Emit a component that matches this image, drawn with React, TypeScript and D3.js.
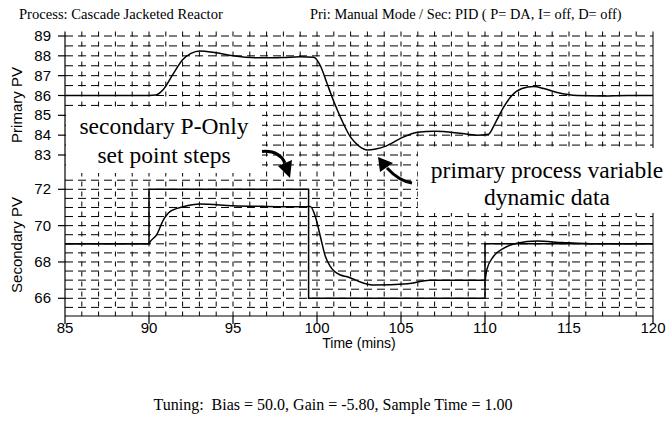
import React from "react";
import * as d3 from "d3";

const primaryT = [85, 87, 90, 90.4, 90.85, 91.45, 92.0, 92.5, 93.0, 94.0, 95.0, 96.5, 98, 99.0, 99.8, 100.2, 100.6, 101.0, 101.4, 102.0, 102.5, 103.0, 103.5, 104.1, 105.0, 106.0, 107.0, 108.5, 109.5, 110.2, 110.6, 111.1, 111.6, 112.2, 112.9, 113.5, 114.3, 115.5, 117, 118.5, 120];
const primaryV = [86.0, 86.0, 86.0, 86.02, 86.3, 87.1, 87.8, 88.12, 88.25, 88.15, 88.0, 87.9, 87.92, 87.95, 87.93, 87.5, 86.6, 85.7, 84.9, 83.9, 83.45, 83.25, 83.3, 83.45, 83.85, 84.15, 84.2, 84.1, 84.0, 84.05, 84.6, 85.4, 86.0, 86.35, 86.45, 86.35, 86.15, 86.0, 85.98, 86.0, 86.0];

const secondaryT = [85, 88, 90, 90.06, 90.46, 90.85, 91.25, 92.04, 93.04, 95, 97, 99, 99.6, 99.9, 100.2, 100.5, 100.8, 101.4, 101.8, 102.8, 103.4, 105.4, 106.7, 108, 109.7, 110, 110.1, 110.5, 111.1, 111.9, 113.1, 114.6, 116.6, 120];
const secondaryV = [69.0, 69.0, 69.0, 69.1, 69.5, 70.3, 70.77, 71.04, 71.19, 71.1, 71.06, 71.04, 71.05, 70.5, 69.4, 68.3, 67.74, 67.28, 67.19, 66.83, 66.73, 66.8, 67.0, 67.0, 67.0, 67.0, 67.56, 68.3, 68.75, 69.03, 69.15, 69.07, 69.0, 69.0];

const setpointT = [85, 90, 99.5, 110, 120];
const setpointV = [69, 72, 66, 69, 69];

const xTicks = [85, 90, 95, 100, 105, 110, 115, 120];
const primaryTicks = [83, 84, 85, 86, 87, 88, 89];
const secondaryTicks = [66, 68, 70, 72];

const titleLeft = "Process: Cascade Jacketed Reactor";
const titleRight = "Pri: Manual Mode / Sec: PID ( P= DA, I= off, D= off)";
const tuningText = "Tuning:  Bias = 50.0, Gain = -5.80, Sample Time = 1.00";

export default function App() {
  const W = 667, H = 447;
  const left = 65, right = 653, top = 31.5, bottom = 316;
  const x = d3.scaleLinear().domain([85, 120]).range([left, right]);
  const yP = d3.scaleLinear().domain([83, 89]).range([155, 36]);
  const yS = d3.scaleLinear().domain([66, 72]).range([298.3, 189.3]);

  const pGrid = d3.range(89, 82.4, -0.5);
  const sGrid = d3.range(72.5, 65.4, -0.5);
  const vGrid = d3.range(86, 120, 1);

  const pLine = d3.line<number>().x((_, i) => x(primaryT[i])).y((d) => yP(d)).curve(d3.curveMonotoneX);
  const sLine = d3.line<number>().x((_, i) => x(secondaryT[i])).y((d) => yS(d)).curve(d3.curveMonotoneX);
  const spLine = d3.line<number>().x((_, i) => x(setpointT[i])).y((d) => yS(d)).curve(d3.curveStepAfter);

  const sans = "'Liberation Sans', Arial, sans-serif";
  const serif = "'Liberation Serif', 'Times New Roman', serif";
  const ts = { fontFamily: serif, whiteSpace: "pre" as const };

  return (
    <svg width={W} height={H} style={{ position: "absolute", left: 0, top: 0, background: "#fff" }}>
      <rect x={0} y={0} width={W} height={H} fill="#fff" />
      <text x={19} y={19} style={ts} fontSize={14.6}>{titleLeft}</text>
      <text x={310} y={19} style={ts} fontSize={14.4}>{titleRight}</text>

      {/* grid */}
      <g stroke="#000" strokeWidth={1} fill="none">
        {vGrid.map((t) => (
          <line key={"v" + t} x1={x(t)} x2={x(t)} y1={top} y2={bottom} strokeDasharray="5,5" />
        ))}
        {pGrid.map((v) => (
          <line key={"p" + v} x1={left} x2={right} y1={yP(v)} y2={yP(v)} strokeDasharray="8,5" />
        ))}
        {sGrid.map((v) => (
          <line key={"s" + v} x1={left} x2={right} y1={yS(v)} y2={yS(v)} strokeDasharray="8,5" />
        ))}
        <line x1={right} x2={right} y1={top} y2={bottom} />
      </g>

      {/* white label boxes */}
      <rect x={66} y={108} width={196} height={65} fill="#fff" />
      <rect x={418} y={148} width={249} height={65} fill="#fff" />

      {/* axes */}
      <g stroke="#000" strokeWidth={1.2} fill="none">
        <line x1={left} x2={left} y1={top} y2={bottom} />
        <line x1={left} x2={right} y1={bottom} y2={bottom} />
        {xTicks.map((t) => (
          <line key={"xt" + t} x1={x(t)} x2={x(t)} y1={bottom} y2={bottom + 8} />
        ))}
        {primaryTicks.map((v) => (
          <line key={"pt" + v} x1={left - 7} x2={left} y1={yP(v)} y2={yP(v)} />
        ))}
        {secondaryTicks.map((v) => (
          <line key={"st" + v} x1={left - 7} x2={left} y1={yS(v)} y2={yS(v)} />
        ))}
      </g>
      <g style={{ fontFamily: sans }} fontSize={15} fill="#000">
        {xTicks.map((t) => (
          <text key={"xl" + t} x={x(t)} y={333} textAnchor="middle">{t}</text>
        ))}
        {primaryTicks.map((v) => (
          <text key={"pl" + v} x={51} y={yP(v) + 5} textAnchor="end">{v}</text>
        ))}
        {secondaryTicks.map((v) => (
          <text key={"sl" + v} x={51} y={yS(v) + 5} textAnchor="end">{v}</text>
        ))}
        <text x={(left + right) / 2} y={348} textAnchor="middle" fontSize={14}>Time (mins)</text>
        <text transform="translate(22,105) rotate(-90)" textAnchor="middle">Primary PV</text>
        <text transform="translate(22,245) rotate(-90)" textAnchor="middle">Secondary PV</text>
      </g>

      {/* data */}
      <path d={spLine(setpointV) || ""} fill="none" stroke="#000" strokeWidth={1.5} />
      <path d={sLine(secondaryV) || ""} fill="none" stroke="#000" strokeWidth={1.5} />
      <path d={pLine(primaryV) || ""} fill="none" stroke="#000" strokeWidth={1.5} />

      {/* annotations */}
      <g style={{ fontFamily: serif }} fontSize={23.5} fill="#000" textAnchor="middle">
        <text x={164} y={134}>secondary P-Only</text>
        <text x={164} y={163}>set point steps</text>
        <text x={547} y={178}>primary process variable</text>
        <text x={547} y={205}>dynamic data</text>
      </g>
      <path d="M262,151.5 Q279,150 285,163" fill="none" stroke="#000" strokeWidth={3} />
      <polygon points="278,166 292,160 290,178" fill="#000" />
      <path d="M412,183 Q399,181 387,168" fill="none" stroke="#000" strokeWidth={3} />
      <polygon points="378,157 380,172 393,163" fill="#000" />

      <text x={333} y={410} style={ts} fontSize={16} textAnchor="middle">{tuningText}</text>
    </svg>
  );
}
